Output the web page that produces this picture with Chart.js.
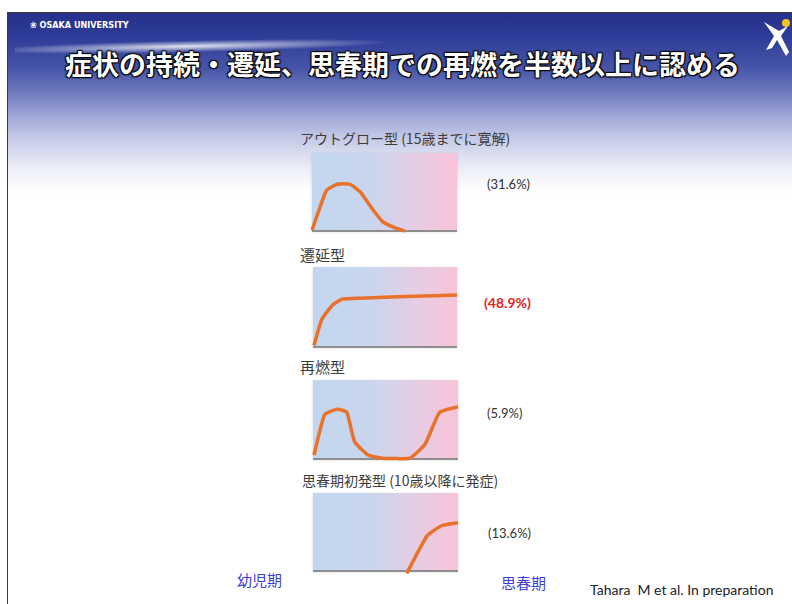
<!DOCTYPE html>
<html>
<head>
<meta charset="utf-8">
<script src="https://cdn.jsdelivr.net/npm/chart.js@4.4.1/dist/chart.umd.min.js"></script>
<style>
  body { margin: 0; background: #fff; }
  #page { position: relative; width: 792px; height: 604px; overflow: hidden; background: #fff; }
  #slide {
    position: absolute; left: 7px; top: 12px; width: 785px; height: 592px;
    border-left: 1px solid #3a3a3a; border-top: 1px solid #3a3a3a;
    background: linear-gradient(to bottom, #25318a 0px, #2f3d98 25px, #4654a8 55px, #6f7bbe 80px,
      #9ca5d5 102px, #bfc5e5 122px, #dcdff0 142px, #f1f2f9 160px, #fff 180px);
  }
  .swoosh {
    position: absolute; left: 15px; top: 40px; width: 380px; height: 12px;
    background: radial-gradient(ellipse at 45% 50%, rgba(255,255,255,0.85) 0%, rgba(255,255,255,0.35) 40%, rgba(255,255,255,0) 70%);
    transform: rotate(-1.2deg);
  }
  .uni { position: absolute; left: 30px; top: 20px; color: #fff; font: bold 9px "Liberation Sans Narrow", "DejaVu Sans Condensed", Roboto, sans-serif; white-space: nowrap; }
  .title {
    position: absolute; left: 65px; top: 50px; white-space: nowrap; color: #fff;
    font: bold 27px "Noto Sans CJK JP", sans-serif; line-height: 1;
    text-shadow: 0 0 2px #000, 1px 1px 1px #000, -1px -1px 1px #111, 1px -1px 1px #111, -1px 1px 1px #111;
  }
  .lbl { position: absolute; white-space: nowrap; line-height: 1; font-family: "Noto Sans CJK JP", sans-serif; color: #3c3c3c; }
  .pct { position: absolute; white-space: nowrap; line-height: 1; font-family: Lato, "Open Sans", sans-serif; color: #333; font-size: 13px; }
  canvas { position: absolute; }
</style>
</head>
<body>
<div id="page">
  <div id="slide"></div>
  <div class="swoosh"></div>
  <div class="uni">&#x2740; OSAKA UNIVERSITY</div>
  <svg style="position:absolute;left:762px;top:16px" width="30" height="42" viewBox="0 0 30 42">
    <path d="M2 6 L12 20 L4 34 L10 32 L15 24 L24 40 L27 36 L19 20 L26 10 L17 15 Z" fill="#fff"/>
    <circle cx="24" cy="7" r="4" fill="#f3c21c"/>
  </svg>
  <div class="title">症状の持続・遷延、思春期での再燃を半数以上に認める</div>

  <div class="lbl" style="left:300px;top:131px;font-size:14px">アウトグロー型 (15歳までに寛解)</div>
  <div class="lbl" style="left:300px;top:247px;font-size:15px">遷延型</div>
  <div class="lbl" style="left:300px;top:359px;font-size:15px">再燃型</div>
  <div class="lbl" style="left:302px;top:473px;font-size:14px">思春期初発型 (10歳以降に発症)</div>

  <div class="pct" id="pct0" style="left:487px;top:178px"></div>
  <div class="pct" id="pct1" style="left:484px;top:296px;color:#e3231f;font-weight:bold;font-size:14px"></div>
  <div class="pct" id="pct2" style="left:487px;top:407px"></div>
  <div class="pct" id="pct3" style="left:488px;top:527px"></div>

  <div class="lbl" style="left:237px;top:572px;font-size:15px;color:#3d3dd8">幼児期</div>
  <div class="lbl" style="left:501px;top:575px;font-size:15px;color:#3d3dd8">思春期</div>
  <div class="pct" style="left:590px;top:583px;color:#222;font-size:14px">Tahara&nbsp; M et al. In preparation</div>

  <canvas id="c0"></canvas>
  <canvas id="c1"></canvas>
  <canvas id="c2"></canvas>
  <canvas id="c3"></canvas>
</div>

<script>
// age (years) along x, symptom level (0-100) along y
const outgrowAge = [0, 1.5, 2.6, 3.9, 5.0, 6.2, 7.3, 8.6, 9.6];
const outgrowLevel = [1, 52, 60, 60, 50, 29, 12, 4, 0];
const persistAge = [0.1, 0.9, 2.0, 3.1, 15];
const persistLevel = [2, 34, 52, 60, 65];
const relapseAge = [0.1, 1.2, 2.5, 3.5, 4.3, 5.7, 7.2, 10.0, 11.6, 13.1, 15];
const relapseLevel = [5, 56, 63, 59, 22, 5, 1, 1, 19, 59, 66];
const lateAge = [9.7, 11.8, 13.3, 15];
const lateLevel = [-3, 45, 58, 62];
const shareLabels = ['(31.6%)', '(48.9%)', '(5.9%)', '(13.6%)'];

const PAD = 5;
const boxes = [
  { left: 312, top: 153, w: 145, h: 78 },
  { left: 313, top: 267, w: 144, h: 80 },
  { left: 313, top: 380, w: 145, h: 79 },
  { left: 313, top: 493, w: 145, h: 78 },
];

const backdrop = {
  id: 'backdrop',
  beforeDraw(chart) {
    const { ctx, chartArea: a } = chart;
    ctx.save();
    ctx.shadowColor = 'rgba(0,0,0,0.15)';
    ctx.shadowBlur = 3;
    ctx.shadowOffsetY = 1;
    const g = ctx.createLinearGradient(a.left, 0, a.right, 0);
    g.addColorStop(0, '#c3d6ef');
    g.addColorStop(0.38, '#c8d6ee');
    g.addColorStop(0.72, '#e6cde3');
    g.addColorStop(1, '#f8c3d8');
    ctx.fillStyle = g;
    ctx.fillRect(a.left, a.top, a.right - a.left, a.bottom - a.top);
    ctx.restore();
    ctx.save();
    ctx.strokeStyle = '#8e8e8e';
    ctx.lineWidth = 2;
    ctx.beginPath();
    ctx.moveTo(a.left, a.bottom);
    ctx.lineTo(a.right, a.bottom);
    ctx.stroke();
    ctx.restore();
  }
};

function toPoints(xs, ys) {
  return xs.map((x, i) => ({ x: x, y: ys[i] }));
}

function drawCurve(id, box, xs, ys) {
  const el = document.getElementById(id);
  el.style.left = (box.left - PAD) + 'px';
  el.style.top = (box.top - PAD) + 'px';
  el.width = box.w + PAD * 2;
  el.height = box.h + PAD * 2;
  new Chart(el, {
    type: 'line',
    data: {
      datasets: [{
        data: toPoints(xs, ys),
        borderColor: '#e8722c',
        borderWidth: 3.5,
        pointRadius: 0,
        tension: 0.15,
        clip: false,
      }],
    },
    options: {
      responsive: false,
      animation: false,
      layout: { padding: PAD },
      plugins: { legend: { display: false }, tooltip: { enabled: false } },
      scales: {
        x: { type: 'linear', min: 0, max: 15, display: false },
        y: { min: 0, max: 100, display: false },
      },
    },
    plugins: [backdrop],
  });
}

drawCurve('c0', boxes[0], outgrowAge, outgrowLevel);
drawCurve('c1', boxes[1], persistAge, persistLevel);
drawCurve('c2', boxes[2], relapseAge, relapseLevel);
drawCurve('c3', boxes[3], lateAge, lateLevel);

shareLabels.forEach((t, i) => {
  document.getElementById('pct' + i).textContent = t;
});
</script>
</body>
</html>
